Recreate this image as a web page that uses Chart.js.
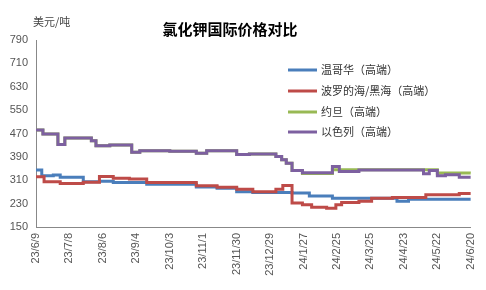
<!DOCTYPE html>
<html>
<head>
<meta charset="utf-8">
<script src="https://cdn.jsdelivr.net/npm/chart.js@4.4.1/dist/chart.umd.min.js"></script>
<style>
  html, body { margin: 0; padding: 0; background: #fff; }
  #wrap { width: 486px; height: 290px; position: relative; }
</style>
</head>
<body>
<div id="wrap"><canvas id="chart"></canvas></div>
<script>
// tick labels on the date axis, one every 29 days
const xTickLabels = ['23/6/9', '23/7/8', '23/8/6', '23/9/4', '23/10/3', '23/11/1', '23/11/30',
  '23/12/29', '24/1/27', '24/2/25', '24/3/25', '24/4/23', '24/5/22', '24/6/20']
const dayStep = 29

// each series: day offset from 23/6/9 where the price changes, and the price (USD/t)
const vancouverDays = [0, 5, 15, 21, 41, 55, 67, 96, 139, 157, 174, 188, 222, 237, 257, 313, 323, 377]
const vancouverPrices = [345, 325, 328, 320, 305, 307, 302, 296, 287, 283, 271, 268, 266, 256, 248, 238, 245, 245]

const balticDays = [0, 7, 21, 41, 55, 67, 81, 96, 139, 157, 174, 188, 208, 214, 222, 231, 239, 252, 260, 265, 280, 291, 309, 338, 367, 377]
const balticPrices = [322, 305, 299, 303, 323, 317, 314, 302, 291, 286, 279, 271, 279, 292, 232, 226, 218, 214, 226, 234, 238, 248, 251, 260, 265, 265]

const jordanDays = [0, 6, 19, 25, 48, 52, 64, 83, 90, 116, 139, 148, 174, 185, 208, 213, 217, 222, 231, 257, 348, 377]
const jordanPrices = [482, 468, 432, 455, 445, 428, 431, 406, 411, 409, 402, 411, 398, 400, 391, 380, 368, 343, 333, 346, 335, 334]

const israelDays = [0, 6, 19, 25, 48, 52, 64, 83, 90, 116, 139, 148, 174, 185, 208, 213, 217, 222, 231, 257, 263, 280, 336, 341, 348, 355, 367, 377]
const israelPrices = [482, 468, 432, 455, 445, 428, 431, 406, 411, 409, 402, 411, 398, 400, 391, 380, 368, 343, 336, 357, 340, 345, 332, 343, 325, 329, 320, 320]

const seriesNames = ['温哥华（高端）', '波罗的海/黑海（高端）', '约旦（高端）', '以色列（高端）']
const seriesColors = ['#4a7ebb', '#be4b48', '#98b954', '#7d60a0']

const chartTitle = '氯化钾国际价格对比'
const unitLabel = '美元/吨'

const toPoints = (days, prices) => days.map((d, i) => ({ x: d, y: prices[i] }))

const allSeries = [
  toPoints(vancouverDays, vancouverPrices),
  toPoints(balticDays, balticPrices),
  toPoints(jordanDays, jordanPrices),
  toPoints(israelDays, israelPrices)
]

// draw order: purple on top, so give later series a lower "order"
const datasets = allSeries.map((pts, i) => ({
  label: seriesNames[i],
  data: pts,
  borderColor: seriesColors[i],
  backgroundColor: seriesColors[i],
  borderWidth: 3,
  pointRadius: 0,
  stepped: 'before', // a price holds until the next change day
  fill: false,
  order: allSeries.length - i
}))

const tickFont = { family: '"Liberation Sans", Arial, sans-serif', size: 11 }

// title, unit and the in-plot legend, drawn by hand
const decorations = {
  id: 'decorations',
  afterDraw(chart) {
    const ctx = chart.ctx
    ctx.save()
    ctx.fillStyle = '#000'
    ctx.font = 'bold 15px "Noto Sans CJK SC"'
    ctx.textAlign = 'center'
    ctx.textBaseline = 'middle'
    ctx.fillText(chartTitle, 230, 29)

    ctx.fillStyle = '#444'
    ctx.font = '11px "Noto Sans CJK SC"'
    ctx.textAlign = 'left'
    ctx.fillText(unitLabel, 33, 22)

    const legendY = [70, 91, 112, 132]
    seriesNames.forEach((name, i) => {
      ctx.strokeStyle = seriesColors[i]
      ctx.lineWidth = 3
      ctx.beginPath()
      ctx.moveTo(288, legendY[i])
      ctx.lineTo(317, legendY[i])
      ctx.stroke()
      ctx.fillStyle = '#333'
      ctx.fillText(name, 321, legendY[i])
    })
    ctx.restore()
  }
}

new Chart(document.getElementById('chart'), {
  type: 'line',
  data: { datasets },
  plugins: [decorations],
  options: {
    responsive: true,
    maintainAspectRatio: false,
    animation: false,
    layout: { padding: { top: 40, right: 14, left: 0, bottom: 0 } },
    plugins: {
      legend: { display: false },
      tooltip: { enabled: false }
    },
    scales: {
      x: {
        type: 'linear',
        min: 0,
        max: dayStep * (xTickLabels.length - 1),
        afterFit: (scale) => { scale.height = 63 },
        grid: { display: false, drawTicks: true, tickLength: 4, color: '#888' },
        border: { display: true, color: '#888' },
        ticks: {
          stepSize: dayStep,
          autoSkip: false,
          maxRotation: 90,
          minRotation: 90,
          color: '#555',
          font: { ...tickFont, size: 11 },
          padding: 2,
          callback: (value) => xTickLabels[Math.round(value / dayStep)] ?? ''
        }
      },
      y: {
        min: 150,
        max: 790,
        afterFit: (scale) => { scale.width = 36 },
        grid: { display: false, drawTicks: true, tickLength: 5, color: '#888' },
        border: { display: true, color: '#888' },
        ticks: { stepSize: 80, color: '#555', font: tickFont, padding: 3 }
      }
    }
  }
})
</script>
</body>
</html>
